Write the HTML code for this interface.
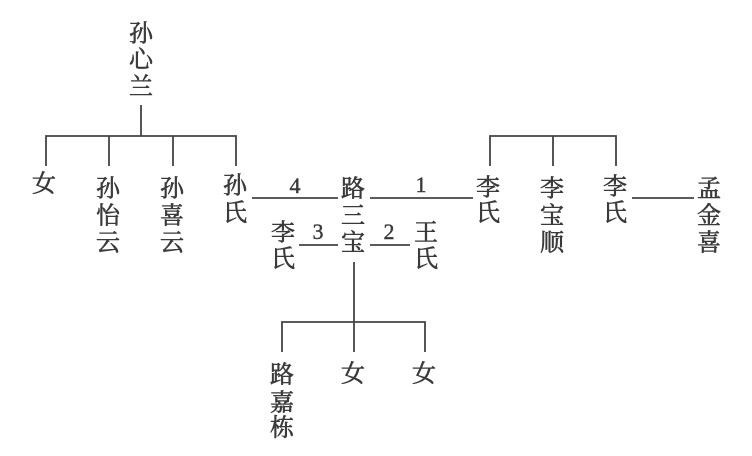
<!DOCTYPE html>
<html lang="zh">
<head>
<meta charset="utf-8">
<style>
html,body{margin:0;padding:0;background:#fff;width:752px;height:456px;overflow:hidden}
svg{display:block}
text{font-family:"Liberation Serif","Noto Serif CJK SC","Noto Sans CJK SC",serif;fill:#3a3a3a;text-anchor:middle;dominant-baseline:central;font-size:24px;stroke:#3a3a3a;stroke-width:.6px}
text.n{font-size:22px;stroke-width:.4px}
path{fill:none;stroke:#444;stroke-width:1.8}
</style>
</head>
<body>
<svg width="752" height="456" viewBox="0 0 752 456" xmlns="http://www.w3.org/2000/svg">
<path d="M141 105V136M46 166V136H236V166M109 136V166M173 136V166"/>
<path d="M490 166V136H616V166M553 136V166"/>
<path d="M252 198H338M370 198H473M632 198H694M299 245H338M370 245H410"/>
<path d="M354 262V352M282 352V322H425V352"/>
<g transform="translate(0 1.5)">
<text x="141" y="33">孙</text><text x="141" y="59">心</text><text x="141" y="86">兰</text>
<text x="44" y="183">女</text>
<text x="108" y="188">孙</text><text x="108" y="215">怡</text><text x="108" y="242">云</text>
<text x="172" y="188">孙</text><text x="172" y="215">喜</text><text x="172" y="242">云</text>
<text x="235" y="185">孙</text><text x="235" y="212">氏</text>
<text x="353" y="188">路</text><text x="353" y="215">三</text><text x="353" y="242">宝</text>
<text x="283" y="232">李</text><text x="283" y="258">氏</text>
<text x="426" y="232">王</text><text x="426" y="258">氏</text>
<text x="488" y="187">李</text><text x="488" y="212">氏</text>
<text x="552" y="188">李</text><text x="552" y="215">宝</text><text x="552" y="242">顺</text>
<text x="615" y="186">李</text><text x="615" y="212">氏</text>
<text x="709" y="188">孟</text><text x="709" y="215">金</text><text x="709" y="242">喜</text>
<text x="282" y="374">路</text><text x="282" y="402">嘉</text><text x="282" y="427">栋</text>
<text x="353" y="373">女</text><text x="424" y="373">女</text>
<text class="n" x="295" y="184">4</text>
<text class="n" x="318" y="230">3</text>
<text class="n" x="421" y="183">1</text>
<text class="n" x="389" y="230">2</text>
</g>
</svg>
</body>
</html>
